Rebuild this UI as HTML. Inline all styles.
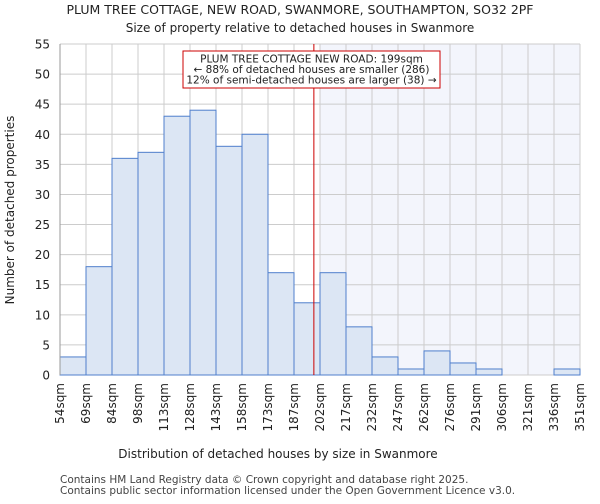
<!DOCTYPE html>
<html><head><meta charset="utf-8"><style>
body{margin:0;background:#fff;font-family:"DejaVu Sans","Liberation Sans",sans-serif;}
</style></head><body>
<svg id="chart" width="600" height="500" xmlns="http://www.w3.org/2000/svg" font-family="DejaVu Sans, Liberation Sans, sans-serif">
<text x="300" y="14" text-anchor="middle" font-size="12.5" fill="#222">PLUM TREE COTTAGE, NEW ROAD, SWANMORE, SOUTHAMPTON, SO32 2PF</text>
<text x="300" y="32" text-anchor="middle" font-size="12" fill="#222">Size of property relative to detached houses in Swanmore</text>
<g id="plot"></g>
<text x="278" y="458" text-anchor="middle" font-size="12" fill="#222">Distribution of detached houses by size in Swanmore</text>
<text transform="translate(14,210) rotate(-90)" text-anchor="middle" font-size="12" fill="#222">Number of detached properties</text>
<text x="60" y="483" font-size="10.5" fill="#444">Contains HM Land Registry data © Crown copyright and database right 2025.</text>
<text x="60" y="494" font-size="10.5" fill="#444">Contains public sector information licensed under the Open Government Licence v3.0.</text>
</svg>
<script>
const binLabels=["54sqm","69sqm","84sqm","98sqm","113sqm","128sqm","143sqm","158sqm","173sqm","187sqm","202sqm","217sqm","232sqm","247sqm","262sqm","276sqm","291sqm","306sqm","321sqm","336sqm","351sqm"];
const counts=[3,18,36,37,43,44,38,40,17,12,17,8,3,1,4,2,1,0,0,1];
const yTicks=[0,5,10,15,20,25,30,35,40,45,50,55];
const binStart=54, binEnd=351, propertySize=199, shadeFromIndex=10;
const X0=60,X1=580,Y0=375,Y1=44,YMAX=55;
const NS="http://www.w3.org/2000/svg";
const g=document.getElementById('plot');
const n=counts.length, bw=(X1-X0)/n;
const xi=i=>X0+i*bw;
const xv=v=>X0+(v-binStart)/(binEnd-binStart)*(X1-X0);
const y=v=>Y0-v/YMAX*(Y0-Y1);
function mk(t,a){const e=document.createElementNS(NS,t);for(const k in a)e.setAttribute(k,a[k]);g.appendChild(e);return e;}
let e=mk('rect',{x:xi(shadeFromIndex),y:Y1,width:X1-xi(shadeFromIndex),height:Y0-Y1,fill:'#f3f5fc'});


yTicks.forEach(t=>{
 let l=mk('line',{x1:X0,x2:X1,y1:y(t),y2:y(t),stroke:'#cccccc','stroke-width':1});
 
 
 let tx=mk('text',{x:X0-10,y:y(t)+4.5,'text-anchor':'end','font-size':12,fill:'#222'});
 tx.textContent=t;
 
 
});
binLabels.forEach((lb,i)=>{
 let l=mk('line',{x1:xi(i),x2:xi(i),y1:Y1,y2:Y0,stroke:'#cccccc','stroke-width':1});
 
 
 let tx=mk('text',{transform:`translate(${xi(i)+4},${Y0+8}) rotate(-90)`,'text-anchor':'end','font-size':12,fill:'#222'});
 tx.textContent=lb;
 
 
});
counts.forEach((c,i)=>{
 if(c<=0)return;
 let r=mk('rect',{x:xi(i),y:y(c),width:bw,height:Y0-y(c),fill:'#dce6f4',stroke:'#4f7fcc','stroke-width':1});
 
 
});
let ax=mk('line',{x1:X0,x2:X0,y1:Y1,y2:Y0,stroke:'#999','stroke-width':1});


let rl=mk('line',{x1:xv(propertySize),x2:xv(propertySize),y1:Y1,y2:Y0,stroke:'#cc0000','stroke-width':1});


let box=mk('rect',{x:183,y:51,width:257,height:37,fill:'#fff',stroke:'#cc0000','stroke-width':1});


["PLUM TREE COTTAGE NEW ROAD: 199sqm","← 88% of detached houses are smaller (286)","12% of semi-detached houses are larger (38) →"].forEach((s,k)=>{
 let t=mk('text',{x:311.5,y:62.5+k*10.5,'text-anchor':'middle','font-size':10.5,fill:'#222'});
 t.textContent=s;
 
 
});
</script>
</body></html>
